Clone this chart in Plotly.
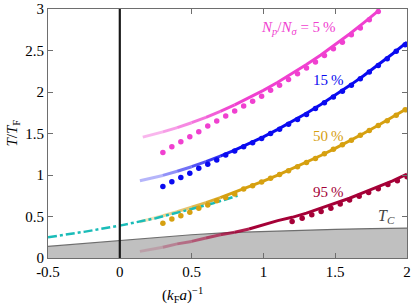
import plotly.graph_objects as go

# ---------------- data ----------------
tc_x = [-0.5, -0.25, 0.0, 0.25, 0.5, 0.75, 1.0, 1.25, 1.5, 1.75, 2.0]
tc_y = [0.14, 0.175, 0.21, 0.25, 0.28, 0.305, 0.32, 0.335, 0.345, 0.355, 0.36]

cyan_x = [-0.5, -0.25, 0.0, 0.25, 0.5, 0.65, 0.82]
cyan_y = [0.25, 0.315, 0.39, 0.48, 0.59, 0.66, 0.75]

p05_x = [0.16, 0.3, 0.4, 0.5, 0.6, 0.7, 0.8, 0.9, 1.0, 1.1, 1.2, 1.3, 1.4, 1.5, 1.6, 1.7, 1.8]
p05_y = [1.456, 1.519, 1.571, 1.63, 1.695, 1.767, 1.845, 1.929, 2.02, 2.117, 2.221, 2.331,
         2.447, 2.57, 2.699, 2.835, 2.977]

p15_x = [0.14, 0.3, 0.4, 0.5, 0.6, 0.7, 0.8, 0.9, 1.0, 1.1, 1.2, 1.3, 1.4, 1.5, 1.6, 1.7,
         1.8, 1.9, 2.0]
p15_y = [0.93, 0.995, 1.045, 1.10, 1.161, 1.227, 1.299, 1.377, 1.46, 1.549, 1.643, 1.743,
         1.849, 1.96, 2.077, 2.199, 2.327, 2.461, 2.6]

p50_x = [0.14, 0.3, 0.4, 0.5, 0.6, 0.7, 0.8, 0.9, 1.0, 1.1, 1.2, 1.3, 1.4, 1.5, 1.6, 1.7,
         1.8, 1.9, 2.0]
p50_y = [0.436, 0.509, 0.558, 0.611, 0.667, 0.727, 0.79, 0.856, 0.925, 0.998, 1.074, 1.153,
         1.235, 1.321, 1.41, 1.503, 1.599, 1.698, 1.8]

p95_x = [0.14, 0.3, 0.4, 0.5, 0.6, 0.7, 0.8, 0.9, 1.0, 1.1, 1.2, 1.3, 1.4, 1.5, 1.6, 1.7,
         1.8, 1.9, 2.0]
p95_y = [0.08, 0.13, 0.17, 0.2, 0.24, 0.28, 0.31, 0.35, 0.40, 0.45, 0.49, 0.54, 0.60, 0.66,
         0.72, 0.79, 0.86, 0.93, 1.01]

dots_x = [0.3, 0.3625, 0.425, 0.4875, 0.55, 0.6125, 0.675, 0.7375, 0.8, 0.8625, 0.925,
          0.9875, 1.05, 1.1125, 1.175, 1.2375, 1.3, 1.3625, 1.425, 1.4875, 1.55, 1.6125,
          1.675, 1.7375, 1.8, 1.8625, 1.925, 1.9875]
d05_y = [1.27, 1.34, 1.40, 1.46, 1.52, 1.59, 1.65, 1.71, 1.77, 1.83, 1.89, 1.95, 2.02, 2.08,
         2.15, 2.22, 2.29, 2.36, 2.44, 2.52, 2.60, 2.69, 2.77, 2.87, 2.97]
d15_y = [0.86, 0.92, 0.97, 1.02, 1.08, 1.13, 1.18, 1.24, 1.29, 1.34, 1.39, 1.44, 1.50, 1.55,
         1.61, 1.67, 1.73, 1.80, 1.87, 1.94, 2.01, 2.08, 2.16, 2.24, 2.32, 2.40, 2.49, 2.57]
d50_y = [0.42, 0.47, 0.51, 0.55, 0.60, 0.64, 0.69, 0.73, 0.77, 0.83, 0.87, 0.915, 0.96, 1.005,
         1.05, 1.10, 1.15, 1.20, 1.255, 1.31, 1.365, 1.42, 1.48, 1.535, 1.595, 1.655, 1.72, 1.785]
d95_x = [1.2, 1.27, 1.337, 1.402, 1.47, 1.535, 1.6, 1.667, 1.733, 1.8, 1.867, 1.933, 2.0]
d95_y = [0.44, 0.48, 0.52, 0.56, 0.60, 0.65, 0.70, 0.745, 0.79, 0.835, 0.885, 0.93, 0.98]

x_ticks = [-0.5, 0, 0.5, 1, 1.5, 2]
x_ticktext = ["-0.5", "0", "0.5", "1", "1.5", "2"]
y_ticks = [0, 0.5, 1, 1.5, 2, 2.5, 3]
y_ticktext = ["0", "0.5", "1", "1.5", "2", "2.5", "3"]

labels = ["<i>N</i><sub><i>p</i></sub>/<i>N</i><sub><i>σ</i></sub> = 5\u2009%",
          "15\u2009%", "50\u2009%", "95\u2009%"]

# ---------------- style ----------------
FONT = "Liberation Serif"
PINK = (240, 64, 208)
BLUE = (10, 10, 240)
GOLD = (214, 160, 16)
RED = (165, 0, 55)
CYAN = "rgb(26,188,184)"

fig = go.Figure()

# gray T_c region
fig.add_trace(go.Scatter(x=tc_x, y=tc_y, mode="lines", fill="tozeroy",
                         fillcolor="rgb(192,192,192)",
                         line=dict(color="rgb(110,110,110)", width=1.2),
                         hoverinfo="skip", showlegend=False))


def faded_line(xs, ys, rgb, a0, x_full, width=3):
    x0 = xs[0]
    n = len(xs)
    for i in range(n - 1):
        xm = 0.5 * (xs[i] + xs[i + 1])
        a = a0 + (1 - a0) * (xm - x0) / (x_full - x0)
        if a >= 1:
            fig.add_trace(go.Scatter(x=xs[i:], y=ys[i:], mode="lines",
                                     line=dict(color="rgb(%d,%d,%d)" % rgb, width=width),
                                     hoverinfo="skip", showlegend=False))
            return
        fig.add_trace(go.Scatter(x=xs[i:i + 2], y=ys[i:i + 2], mode="lines",
                                 line=dict(color="rgba(%d,%d,%d,%.2f)" % (*rgb, a),
                                           width=width),
                                 hoverinfo="skip", showlegend=False))


faded_line(p95_x, p95_y, RED, 0.08, 0.95)
faded_line(p50_x, p50_y, GOLD, 0.2, 0.75)
faded_line(p15_x, p15_y, BLUE, 0.2, 0.8)
faded_line(p05_x, p05_y, PINK, 0.3, 0.8)

fig.add_trace(go.Scatter(x=cyan_x, y=cyan_y, mode="lines",
                         line=dict(color=CYAN, width=2.5, dash="dashdot"),
                         hoverinfo="skip", showlegend=False))


def dots(xs, ys, rgb):
    fig.add_trace(go.Scatter(x=xs[:len(ys)], y=ys, mode="markers",
                             marker=dict(color="rgb(%d,%d,%d)" % rgb, size=5.5),
                             hoverinfo="skip", showlegend=False))


dots(dots_x, d05_y, PINK)
dots(dots_x, d15_y, BLUE)
dots(dots_x, d50_y, GOLD)
dots(d95_x, d95_y, RED)

# vertical line at unitarity
fig.add_shape(type="line", x0=0, x1=0, y0=0, y1=3, xref="x", yref="y",
              line=dict(color="rgb(25,25,25)", width=2.2), layer="above")

label_pos = [(1.246, 2.77), (1.45, 2.15), (1.45, 1.47), (1.45, 0.80)]
label_col = [PINK, BLUE, GOLD, RED]
for t, (lx, ly), c in zip(labels, label_pos, label_col):
    fig.add_annotation(x=lx, y=ly, text=t, showarrow=False, xref="x", yref="y",
                       font=dict(family=FONT, size=15, color="rgb(%d,%d,%d)" % c))

fig.add_annotation(x=1.86, y=0.5, text="<i>T</i><sub><i>C</i></sub>", showarrow=False,
                   xref="x", yref="y", font=dict(family=FONT, size=16, color="rgb(70,70,70)"))

fig.add_annotation(x=0.44, y=-0.15, xref="x", yref="paper", showarrow=False,
                   xanchor="center", yanchor="middle",
                   text="(<i>k</i><sub>F</sub><i>a</i>)<sup>−1</sup>",
                   font=dict(family=FONT, size=15, color="black"))
fig.add_annotation(x=-0.1, y=0.5, xref="paper", yref="paper", showarrow=False,
                   xanchor="center", yanchor="middle",
                   text="<i>T</i>/<i>T</i><sub>F</sub>", textangle=-90,
                   font=dict(family=FONT, size=15, color="black"))

axis_common = dict(showgrid=False, zeroline=False, showline=True, linecolor="rgb(110,110,110)",
                   linewidth=1, mirror="ticks", ticks="inside", ticklen=5,
                   tickcolor="rgb(110,110,110)", automargin=False,
                   tickfont=dict(family=FONT, size=15, color="black"))
fig.update_xaxes(range=[-0.5, 2], tickvals=x_ticks, ticktext=x_ticktext, **axis_common)
fig.update_yaxes(range=[0, 3], tickvals=y_ticks, ticktext=y_ticktext, **axis_common)

fig.update_layout(width=415, height=308, margin=dict(l=48, r=8, t=9, b=50),
                  plot_bgcolor="white", paper_bgcolor="white", showlegend=False)

fig.write_html("out.html", config={"displayModeBar": False},
               post_script="document.body.style.margin='0';document.body.style.overflow='hidden';")
